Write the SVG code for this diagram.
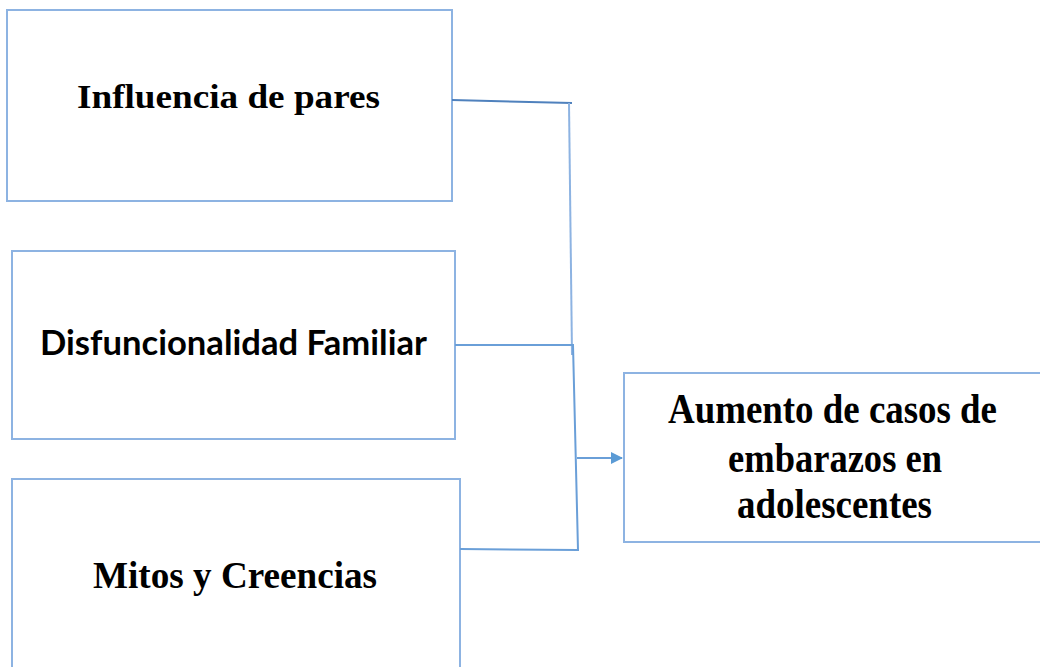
<svg xmlns="http://www.w3.org/2000/svg" width="1040" height="667" viewBox="0 0 1040 667">
<style>
.box{fill:#fff;stroke:#8db3e2;stroke-width:2}
.con{fill:none;stroke:#6a9fd8;stroke-width:2}
.serif{font-family:"Liberation Serif","Times New Roman",serif;font-weight:bold;fill:#000}
.sans{font-family:Lato,"Liberation Sans",sans-serif;font-weight:bold;fill:#000}
</style>
<defs>
<marker id="arr" markerWidth="12" markerHeight="12" refX="11" refY="6" orient="auto" markerUnits="userSpaceOnUse">
<path d="M0,0 L12,6 L0,12 Z" fill="#5b9bd5"/>
</marker>
</defs>
<g id="node-influencia">
<rect class="box" x="7" y="10" width="445" height="191"/>
<text class="serif" x="77" y="108" font-size="33" textLength="303" lengthAdjust="spacingAndGlyphs">Influencia de pares</text>
</g>
<g id="node-disfuncionalidad">
<rect class="box" x="12" y="251" width="443" height="188"/>
<text class="sans" x="40" y="355" font-size="34" textLength="387" lengthAdjust="spacingAndGlyphs">Disfuncionalidad Familiar</text>
</g>
<g id="node-mitos">
<rect class="box" x="12" y="479" width="448" height="200"/>
<text class="serif" x="93" y="588" font-size="38" textLength="284" lengthAdjust="spacingAndGlyphs">Mitos y Creencias</text>
</g>
<g id="node-aumento">
<rect class="box" x="624" y="373" width="430" height="169"/>
<text class="serif" x="668" y="423" font-size="42" textLength="329" lengthAdjust="spacingAndGlyphs">Aumento de casos de</text>
<text class="serif" x="728" y="472" font-size="42" textLength="214" lengthAdjust="spacingAndGlyphs">embarazos en</text>
<text class="serif" x="737" y="518" font-size="42" textLength="195" lengthAdjust="spacingAndGlyphs">adolescentes</text>
</g>
<g id="connectors">
<path class="con" style="stroke:#4f81bd" d="M452,100 L572,103"/>
<path class="con" style="stroke:#8db3e2" d="M569,103 L572,355"/>
<path class="con" d="M455,345 L573,345 L578,550 L460,549"/>
<path class="con" d="M577,458 L622,458" marker-end="url(#arr)"/>
</g>
</svg>
